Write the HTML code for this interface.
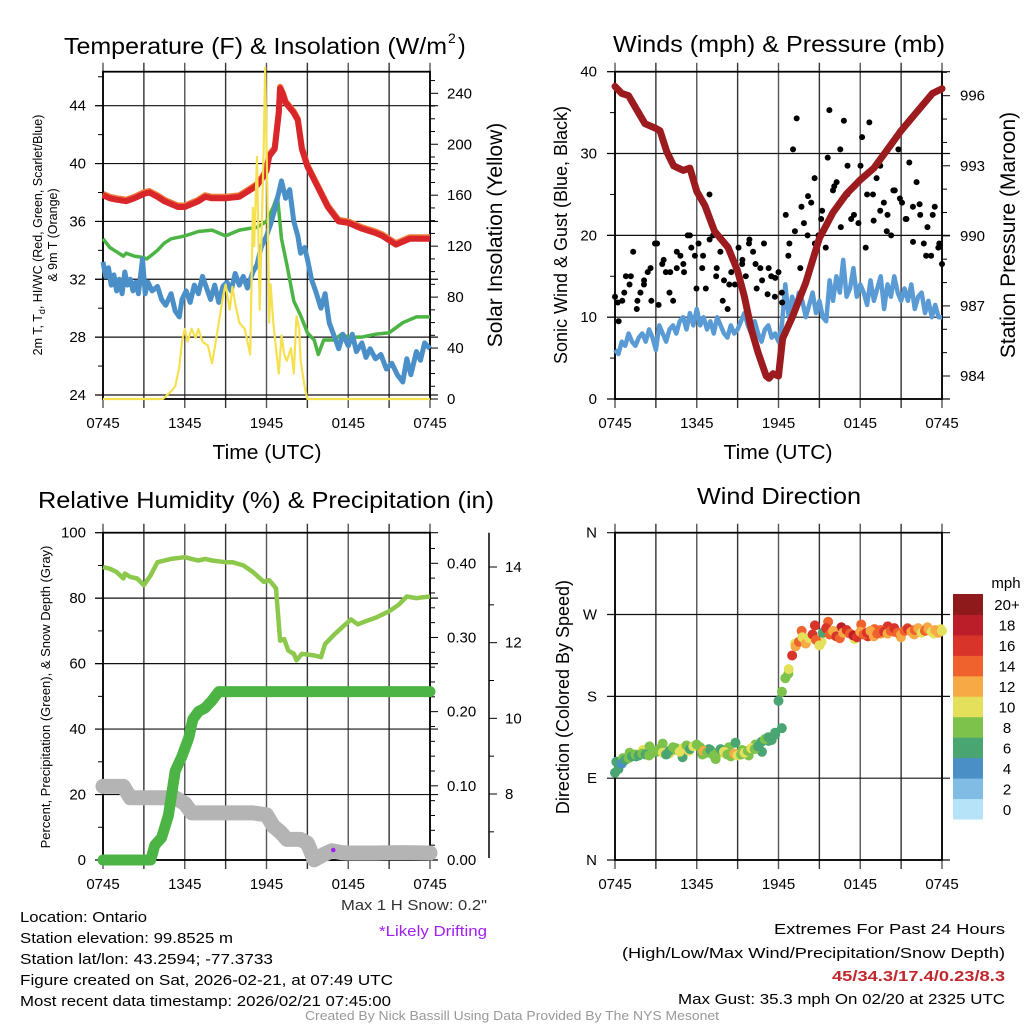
<!DOCTYPE html>
<html><head><meta charset="utf-8"><style>
html,body{margin:0;padding:0;background:#fff;}
svg{display:block;font-family:"Liberation Sans",sans-serif;}
</style></head><body>
<svg id="fig" width="1024" height="1024" viewBox="0 0 1024 1024" xmlns="http://www.w3.org/2000/svg"></svg>
<script>
// ---------- DATA ----------
const tempRedT=[0,0.5,1,1.7,2.3,3,3.4,4,4.5,5,5.5,6,6.5,7,7.5,8,9,10,10.5,11,11.3,11.7,12,12.2,12.6,12.9,13,13.2,13.4,14,14.3,14.6,15,15.7,16.5,17.3,18,19,20,20.5,21.5,22.5,23.5,24];
const tempRedV=[37.8,37.6,37.5,37.4,37.6,37.9,38.0,37.7,37.4,37.2,37.0,37.0,37.2,37.4,37.7,37.6,37.6,37.7,38.0,38.3,38.5,39.0,39.5,40.5,41.0,43.5,45.2,44.8,44.2,43.5,43.0,41.0,39.8,38.5,37.0,36.0,35.9,35.5,35.2,35.0,34.4,34.8,34.8,34.8];
const tempGreenT=[0,0.5,1,1.5,1.7,2.3,3,3.2,3.6,4,4.5,5,6,7,8,9,10,11.3,12,12.5,12.8,13.1,13.5,14,14.5,15,15.5,15.8,16.2,17,17.5,18,19,20,21,22,23,24];
const tempGreenV=[34.8,34.2,33.9,33.6,33.8,33.6,33.5,33.4,33.7,34.0,34.5,34.8,35.0,35.3,35.4,35.0,35.4,35.6,36.0,37.0,37.8,34.8,33.0,30.5,29.5,28.3,27.8,26.8,27.8,27.8,28.2,28.0,28.0,28.2,28.3,29.0,29.4,29.4];
const tempBlueT=[0,0.2,0.4,0.6,0.8,1,1.2,1.4,1.6,1.8,2,2.2,2.4,2.6,2.9,3.1,3.3,3.6,4,4.3,4.6,5,5.3,5.6,5.8,6.1,6.4,6.7,7,7.3,7.6,7.9,8.2,8.5,8.8,9.1,9.4,9.7,10,10.3,10.6,11,11.3,11.6,12,12.3,12.6,12.9,13.1,13.4,13.7,14,14.3,14.5,14.8,15,15.3,15.6,16,16.3,16.6,17,17.3,17.6,18,18.3,18.6,19,19.3,19.6,20,20.4,20.8,21.2,21.6,22,22.3,22.6,23,23.3,23.6,24];
const tempBlueV=[33.2,32.2,32.8,31.6,32.3,31.2,32.0,31.0,32.5,31.6,32.0,31.2,31.8,31.0,33.4,31.0,31.8,31.2,31.5,30.6,30.2,31.0,29.8,29.4,30.6,31.2,30.4,31.6,31.0,32.2,31.4,30.6,31.6,30.4,31.5,31.8,31.2,32.4,31.6,32.2,31.4,32.5,33.0,34.2,35.0,35.8,36.8,38.0,38.8,37.6,38.2,36.0,35.0,33.8,34.2,33.4,32.0,31.2,30.0,31.0,29.0,28.0,27.2,28.2,27.4,28.2,27.0,27.6,26.6,27.2,26.5,26.8,25.8,26.2,25.4,24.9,26.5,25.4,27.0,26.4,27.6,27.2];
const solarT=[0,4.4,4.7,5.0,5.3,5.6,5.8,6.0,6.2,6.5,6.8,7.0,7.3,7.7,8.0,8.2,8.5,8.8,9.0,9.3,9.5,9.7,10.0,10.4,10.8,11.0,11.1,11.3,11.5,11.8,11.9,12.1,12.2,12.3,12.5,12.7,12.9,13.1,13.3,13.5,13.8,14.0,14.2,14.4,14.5,14.8,15.0,24];
const solarV=[0,0,3,6,10,25,45,55,45,55,48,55,45,42,28,40,60,80,90,70,88,75,60,55,35,150,120,190,70,200,260,140,60,90,60,40,20,50,35,30,40,20,65,55,30,10,0,0];
const windT=[0,0.25,0.5,0.75,1,1.25,1.5,1.75,2,2.25,2.5,2.75,3,3.25,3.5,3.75,4,4.25,4.5,4.75,5,5.25,5.5,5.75,6,6.25,6.5,6.75,7,7.25,7.5,7.75,8,8.25,8.5,8.75,9,9.25,9.5,9.75,10,10.25,10.5,10.75,11,11.25,11.5,11.75,12,12.25,12.5,12.75,13,13.25,13.5,13.75,14,14.25,14.5,14.75,15,15.25,15.5,15.75,16,16.25,16.5,16.75,17,17.25,17.5,17.75,18,18.25,18.5,18.75,19,19.25,19.5,19.75,20,20.25,20.5,20.75,21,21.25,21.5,21.75,22,22.25,22.5,22.75,23,23.25,23.5,23.75,24];
const windV=[6,5.5,7,6.5,8,7,6.5,7.5,8,7,8.5,7.5,6,9,8,7,8.5,9,8,9.5,10,8.5,10.5,9,11,9,10,8.5,9.5,8,10,9,8,7.5,9,8,8.5,9.5,10.5,9,8,9.5,8,7,8.5,9,7.5,8,7,9,14,10,12.5,11,13,12,10,11.5,13,10.5,12,10,9.5,14.5,12,15,13,17,12.5,13.5,16,12.5,14,13,11.5,14.5,12,13.5,15,11,14,12.5,15,13,12,13.5,12,14,11,12.5,13,10.5,12,10,11.5,10,10];
const gustV=[12.5,9.5,12,15,14,18,11,13,14.5,15.5,12,19,11.5,16.5,15.5,13,12,16,17.5,15.5,20,18.5,17.5,19,16,13.5,25,20,16,18,14.5,11,15.5,14,18.5,16.5,15,19.5,18,13.5,16,19,12.8,15,12.5,15.5,11.8,22.5,19,30.5,34.3,16,21.5,20,24,19,20,23,18.5,35.3,25.5,26.5,30.5,34,28.5,22,26,21.5,32,18.5,33.8,25,27,28.5,24,22.5,20,25.5,30.5,24,22,28.9,23.5,26.5,22.5,19,21,17.5,23.5,18.5,16.5];
const gustV2=[11.8,13,15,12,14,16,19,17,15.5,18,16.5,20,13.5,17.5,19.5,15,12,14,16,17,19,16.5,14.5,16,14.8,13,17.5,20.5,23.5,24.8,27,22,29.5,26,21,25,22.5,28.5,25,21.8,23,20.5,25.5,24.5,22,19.2,23.8,17.5,22.5,19];
const pressT=[0,0.5,1,1.5,2.2,3,3.3,3.8,4.3,5,5.5,6,6.6,7.3,8.3,9,9.5,10,10.5,10.8,11.1,11.3,11.6,12,12.3,13,14,15,16,17,18,19,20,21,22,23.3,24];
const pressV=[996.4,996.1,996.0,995.5,994.8,994.6,994.5,993.6,993.0,992.8,992.9,991.9,991.3,990.2,989.5,988.5,987.4,986.0,985.0,984.5,984.0,983.9,984.1,984.0,985.6,986.5,988.0,989.9,991.0,991.8,992.4,992.9,993.7,994.5,995.2,996.1,996.3];
const rhT=[0,0.5,1,1.5,1.6,2,2.5,3,3.5,4,5,6,6.5,7,7.5,8,9,9.5,10.3,11,11.8,12.2,12.4,12.7,13,13.3,13.6,14,14.2,14.6,15.5,16,16.3,17,17.8,18.2,18.7,19.3,20,21,21.7,22.3,23,23.5,24];
const rhV=[89.5,89,88,86,87.5,86.5,86,84,87,91,92,92.5,92,91.5,92,91.5,91,91,90,88,85,85.5,84.5,83,67,67.5,64,63,61,63,62.5,62,66,69,72,73.5,72,73,74,76,78,80.5,80,80.3,80.5];
const precipT=[0,3.5,3.8,4.3,4.8,5.3,5.8,6.3,6.6,7,7.5,8,8.5,24];
const precipV=[0,0,0.02,0.03,0.06,0.12,0.14,0.165,0.19,0.2,0.205,0.215,0.227,0.227];
const snowT=[0,1.5,2.0,3,4.5,5.3,6.0,6.5,10,11,12.0,12.5,13.0,13.5,14.5,15,15.5,16.2,16.8,17.5,18,20,22,24];
const snowV=[8.2,8.2,7.9,7.9,7.9,7.9,7.75,7.5,7.5,7.5,7.45,7.15,7.0,6.8,6.8,6.7,6.26,6.4,6.5,6.45,6.44,6.44,6.45,6.44];
const driftT=[16.9];
const driftV=[6.52];
const dirV=[96,100,106,110,112,114,116,115,117,116,115,118,120,122,118,116,120,124,121,119,123,126,122,125,127,124,120,118,121,115,118,122,119,116,114,117,115,116,118,120,123,122,125,130,133,135,132,140,175,185,200,210,225,235,240,245,238,244,248,242,236,250,255,248,252,246,244,250,253,249,247,245,251,248,250,252,246,249,253,251,249,252,255,250,248,252,254,251,253,255,250,252,254,251,253,250,252];
const speedV=[6,6,5,7,8,7,8,6,8,7,8,9,8,8,10,7,6,9,8,10,11,9,7,10,8,9,12,8,7,8,9,7,10,9,8,12,10,8,10,9,10,8,7,6,8,7,6,6,7,8,9,10,16,13,14,10,12,11,17,15,10,7,16,14,13,17,15,12,16,14,18,17,13,14,16,13,12,15,14,16,13,15,17,14,12,14,16,12,15,13,11,14,12,11,13,12,10];
const dirV2=[108,112,118,114,121,125,119,128,117,123,113,120,126,116,122,111,118,124,129,121,115,127,119,131,138,145,205,238,252,244,258,240,262,247,256,250,243,259,246,254,249,257,251,245,255,248,253,256,249,254];
const speedV2=[7,8,9,6,10,8,7,9,11,8,7,10,9,8,7,8,10,9,7,8,9,8,7,6,7,6,8,10,14,12,17,10,15,13,18,16,11,14,17,15,13,16,14,12,15,13,14,12,11,10];
const xTickLabels=["0745","1345","1945","0145","0745"];
const legendLabels=["0","2","4","6","8","10","12","14","16","18","20+"];
const legendColors=["#b6e3f8","#80bce4","#4b8fc7","#49a572","#7dc24b","#e5e05b","#f6a944","#ef622d","#d8342a","#bb1e28","#8f1a1c"];

// ---------- HELPERS ----------
const NS="http://www.w3.org/2000/svg";
const svg=document.getElementById('fig');
function el(tag,attrs,parent){const e=document.createElementNS(NS,tag);for(const k in attrs)e.setAttribute(k,attrs[k]);(parent||svg).appendChild(e);return e;}
function txt(s,x,y,size,anchor,extra){const t=el('text',Object.assign({x:x,y:y,'font-size':size,'text-anchor':anchor||'start',fill:'#000'},extra||{}));t.textContent=s;return t;}
const L1=103,R1=430,L2=615,R2=942;
const TOP1=71.7,BOT1=399,TOP2=532.7,BOT2=860;
function xs(L,R){return h=>L+h/24*(R-L);}
function lin(d0,d1,p0,p1){return v=>p0+(v-d0)/(d1-d0)*(p1-p0);}
function pathD(ts,vs,fx,fy){return ts.map((t,i)=>(i?'L':'M')+fx(t).toFixed(1)+','+fy(vs[i]).toFixed(1)).join('');}

function frame(name,L,R,T,B,hGrid){
  const g=el('g',{});
  
  
  for(let i=0;i<=8;i++){const x=L+i*(R-L)/8;el('line',{x1:x,x2:x,y1:T-9,y2:B+9,stroke:(i%2?'#333':'#555'),'stroke-width':1.4},g);}
  hGrid.forEach(y=>el('line',{x1:L-8,x2:R+8,y1:y,y2:y,stroke:'#111','stroke-width':1.2},g));
  const r=el('rect',{x:L,y:T,width:R-L,height:B-T,fill:'none',stroke:'#000','stroke-width':1.8});
  
  
  xTickLabels.forEach((s,i)=>{const t=txt(s,L+i*(R-L)/4,B+29,15,'middle');
    
    });
}
function ticksLeft(x,ys,minor){ys.forEach(y=>el('line',{x1:x-8,x2:x,y1:y,y2:y,stroke:'#000','stroke-width':1}));minor.forEach(y=>el('line',{x1:x-5,x2:x,y1:y,y2:y,stroke:'#000','stroke-width':1}));}
function ticksRight(x,ys,minor){ys.forEach(y=>el('line',{x1:x,x2:x+8,y1:y,y2:y,stroke:'#000','stroke-width':1}));minor.forEach(y=>el('line',{x1:x,x2:x+5,y1:y,y2:y,stroke:'#000','stroke-width':1}));}
function rot(s,x,y,size,name){const t=txt(s,x,y,size,'middle',{transform:`rotate(-90 ${x} ${y})`});return t;}
function title(s,x,y,len,name){const t=txt(s,x,y,23,'middle',{textLength:len,lengthAdjust:'spacingAndGlyphs'});return t;}

// ---------- PANEL 1: Temperature ----------
{
const fx=xs(L1,R1), fy=lin(24,44,395,105.7), fs=lin(0,240,399,93.3);
const hg=[24,28,32,36,40,44].map(fy);
frame('temperature',L1,R1,TOP1,BOT1,hg);
const minorL=[];for(let v=26;v<=46;v+=4)minorL.push(fy(v));
ticksLeft(L1,hg,minorL.filter(y=>y>TOP1));
const rs=[0,40,80,120,160,200,240].map(fs);const rm=[];for(let v=10;v<=250;v+=10)if(v%40)rm.push(fs(v));
ticksRight(R1,rs,rm);
[24,28,32,36,40,44].forEach(v=>{const t=txt(String(v),86,fy(v)+5,15,'end');});
[0,40,80,120,160,200,240].forEach(v=>{const t=txt(String(v),447,fs(v)+5,15,'start');});
let p=el('path',{d:pathD(tempGreenT,tempGreenV,fx,fy),fill:'none',stroke:'#4cb444','stroke-width':3.5,'stroke-linejoin':'round'});

p=el('path',{d:pathD(tempBlueT,tempBlueV,fx,fy),fill:'none',stroke:'#4a8fc8','stroke-width':5,'stroke-linejoin':'round'});

p=el('path',{d:pathD(tempRedT,tempRedV,fx,v=>fy(v)-1.5),fill:'none',stroke:'#f07a3a','stroke-width':6,'stroke-linejoin':'round'});

p=el('path',{d:pathD(tempRedT,tempRedV,fx,fy),fill:'none',stroke:'#d8262a','stroke-width':6,'stroke-linejoin':'round'});

p=el('path',{d:pathD(solarT,solarV,fx,fs),fill:'none',stroke:'#f5e050','stroke-width':2.2,'stroke-linejoin':'round'});

const t1=txt('Temperature (F) & Insolation (W/m',64,54,23,'start',{textLength:383,lengthAdjust:'spacingAndGlyphs'});
const t1b=txt('2',448,43,14,'start');
const t1c=txt(')',458,54,23,'start');
const a=txt('2m T, T',42,235,12.5,'middle',{transform:'rotate(-90 42 235)'});
const sb=el('tspan',{'font-size':9,dy:3},a);sb.textContent='d';const rest=el('tspan',{dy:-3},a);rest.textContent=', HI/WC (Red, Green, Scarlet/Blue)';
rot('& 9m T (Orange)',57,235,12.5,'temp-y-axis-title-line2');
rot('Solar Insolation (Yellow)',502,235,21,'solar-y-axis-title');
const xt=txt('Time (UTC)',267,459,20,'middle',{textLength:109,lengthAdjust:'spacingAndGlyphs'});
}

// ---------- PANEL 2: Winds ----------
{
const fx=xs(L2,R2), fy=lin(0,40,399,71.7), fp=lin(984,996,376,95.7);
const hg=[0,10,20,30,40].map(fy);
frame('winds',L2,R2,TOP1,BOT1,hg);
const lm=[5,15,25,35].map(fy);ticksLeft(L2,hg,lm);
const rs=[984,987,990,993,996].map(fp);const rm=[];for(let v=983;v<=997;v++)if(v%3)rm.push(fp(v));
ticksRight(R2,rs,rm.filter(y=>y>TOP1&&y<BOT1));
[0,10,20,30,40].forEach(v=>{const t=txt(String(v),597,fy(v)+5,15,'end');});
[984,987,990,993,996].forEach(v=>{const t=txt(String(v),960,fp(v)+5,15,'start');});
let p=el('path',{d:pathD(windT,windV,fx,fy),fill:'none',stroke:'#5b9bd5','stroke-width':4.5,'stroke-linejoin':'round'});

gustV.forEach((v,i)=>{const c=el('circle',{cx:fx(i*24/(gustV.length-1)),cy:fy(v),r:3,fill:'#000'});
  });
gustV2.forEach((v,i)=>{const c=el('circle',{cx:fx(0.2+i*23.6/(gustV2.length-1)),cy:fy(v),r:3,fill:'#000'});
  });
p=el('path',{d:pathD(pressT,pressV,fx,fp),fill:'none',stroke:'#9b1b1e','stroke-width':7,'stroke-linejoin':'round','stroke-linecap':'round'});

title('Winds (mph) & Pressure (mb)',779,52,332,'winds-title');
rot('Sonic Wind & Gust (Blue, Black)',567,235,18,'wind-y-axis-title');
rot('Station Pressure (Maroon)',1015,235,21,'pressure-y-axis-title');
const xt=txt('Time (UTC)',778,459,20,'middle',{textLength:109,lengthAdjust:'spacingAndGlyphs'});
}

// ---------- PANEL 3: RH & Precip ----------
{
const fx=xs(L1,R1), fy=lin(0,100,860,532.7), fr=lin(0,0.4,860,563.3), fsn=lin(8,14,794,567);
const hg=[0,20,40,60,80,100].map(fy);
frame('humidity',L1,R1,TOP2,BOT2,hg);
ticksLeft(L1,hg,[10,30,50,70,90].map(fy));
const rs=[0,0.1,0.2,0.3,0.4].map(fr);const rm=[];for(let v=0.02;v<0.44;v+=0.02){if(Math.abs(v*10-Math.round(v*10))>0.01)rm.push(fr(v));}
ticksRight(R1,rs,rm.filter(y=>y>TOP2));
['0.00','0.10','0.20','0.30','0.40'].forEach((s,i)=>{const t=txt(s,447,fr(i*0.1)+5,15,'start');});
[0,20,40,60,80,100].forEach(v=>{const t=txt(String(v),86,fy(v)+5,15,'end');});
const ax=el('line',{x1:489,x2:489,y1:532.7,y2:858,stroke:'#000','stroke-width':1.5});

[8,10,12,14].forEach(v=>{el('line',{x1:489,x2:497,y1:fsn(v),y2:fsn(v),stroke:'#000','stroke-width':1});
  const t=txt(String(v),505,fsn(v)+5,15,'start');});
[7,9,11,13].forEach(v=>el('line',{x1:489,x2:494,y1:fsn(v),y2:fsn(v),stroke:'#000','stroke-width':1}));
let p=el('path',{d:pathD(snowT,snowV,fx,fsn),fill:'none',stroke:'#b4b4b4','stroke-width':15,'stroke-linejoin':'round','stroke-linecap':'round'});

driftT.forEach((t,i)=>{const c=el('circle',{cx:fx(t),cy:fsn(driftV[i]),r:2.3,fill:'#a020f0'});});
p=el('path',{d:pathD(rhT,rhV,fx,fy),fill:'none',stroke:'#8cc84b','stroke-width':4.5,'stroke-linejoin':'round'});

p=el('path',{d:pathD(precipT,precipV,fx,fr),fill:'none',stroke:'#4cb444','stroke-width':11,'stroke-linejoin':'round','stroke-linecap':'round'});

title('Relative Humidity (%) & Precipitation (in)',266,508,456,'humidity-title');
rot('Percent, Precipitation (Green), & Snow Depth (Gray)',50,697,13,'humidity-y-axis-title');
}

// ---------- PANEL 4: Wind direction ----------
{
const fx=xs(L2,R2), fy=lin(0,360,860,532.7);
const hg=[0,90,180,270,360].map(fy);
frame('wind-direction',L2,R2,TOP2,BOT2,hg);
['N','E','S','W','N'].forEach((s,i)=>{const t=txt(s,597,fy(i*90)+5,15,'end');});
function col(s){let k=Math.floor(s/2);if(k>10)k=10;return legendColors[k];}
dirV2.forEach((d,i)=>{const c=el('circle',{cx:fx(0.1+i*23.8/(dirV2.length-1)),cy:fy(d),r:5,fill:col(speedV2[i])});
  });
dirV.forEach((d,i)=>{const c=el('circle',{cx:fx(i*24/(dirV.length-1)),cy:fy(d),r:5,fill:col(speedV[i])});
  });
title('Wind Direction',779,504,164,'wind-direction-title');
rot('Direction (Colored By Speed)',569,697,18,'direction-y-axis-title');
const lg=el('g',{});
const boxH=(819-594)/legendColors.length;
legendColors.forEach((c,i)=>{const y=819-(i+1)*boxH;el('rect',{x:953,y:y,width:30,height:boxH+0.5,fill:c},lg);
  const tt=txt(legendLabels[i],1007,y+boxH/2+6,15,'middle');});
const mp=txt('mph',1006,588,15,'middle');
}

// ---------- TEXT ----------
function ln(s,x,y,len,anchor,extra,name){const t=txt(s,x,y,15,anchor,Object.assign({textLength:len,lengthAdjust:'spacingAndGlyphs'},extra||{}));}
ln('Location: Ontario',20,922,127,'start',{},'location-text');
ln('Station elevation: 99.8525 m',20,943,213,'start',{},'elevation-text');
ln('Station lat/lon: 43.2594; -77.3733',20,964,253,'start',{},'latlon-text');
ln('Figure created on Sat, 2026-02-21, at 07:49 UTC',20,985,373,'start',{},'created-text');
ln('Most recent data timestamp: 2026/02/21 07:45:00',20,1006,371,'start',{},'timestamp-text');
ln('Max 1 H Snow: 0.2"',487,910,146,'end',{fill:'#333'},'max-snow-text');
ln('*Likely Drifting',487,936,108,'end',{fill:'#a020f0'},'drifting-note');
ln('Extremes For Past 24 Hours',1005,934,231,'end',{},'extremes-title');
ln('(High/Low/Max Wind/Precipitation/Snow Depth)',1005,958,383,'end',{},'extremes-subtitle');
ln('45/34.3/17.4/0.23/8.3',1005,981,173,'end',{fill:'#c0282d','font-weight':'bold'},'extremes-values');
ln('Max Gust: 35.3 mph On 02/20 at 2325 UTC',1005,1004,327,'end',{},'max-gust-text');
const ft=txt('Created By Nick Bassill Using Data Provided By The NYS Mesonet',512,1020,12.5,'middle',{fill:'#999',textLength:414,lengthAdjust:'spacingAndGlyphs'});

</script>
</body></html>
